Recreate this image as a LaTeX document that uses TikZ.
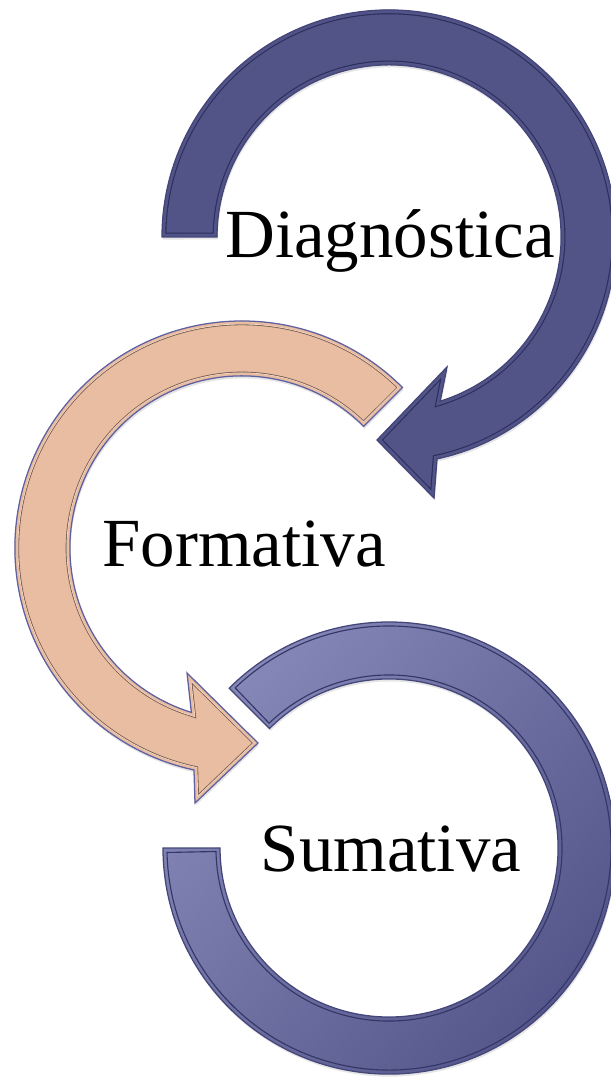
\documentclass[tikz,border=0pt]{standalone}
\usepackage{fontspec}
\setmainfont{Liberation Serif}
\definecolor{navy}{HTML}{525487}
\definecolor{navyedge}{HTML}{44467A}
\definecolor{navyband}{HTML}{2C2E5E}
\definecolor{peach}{HTML}{E8BDA1}
\definecolor{peachedge}{HTML}{5E60A2}
\definecolor{peachband}{HTML}{76584A}
\definecolor{lavlight}{HTML}{8789B9}
\definecolor{lavdark}{HTML}{53558A}
\tikzset{
  lbl/.style={font=\fontsize{49}{58}\selectfont, inner sep=0pt, text=black},
  shad/.style={fill=black, opacity=0.10, transform canvas={shift={(0.6pt,-1.8pt)}}},
}
\begin{document}
\begin{tikzpicture}[x=0.025cm,y=0.025cm]
\useasboundingbox (0,0) rectangle (611,1078);
% ---- paths ----
\path[save path=\pA] (162,841) arc[start angle=180,end angle=-77.8,radius=5.675cm]
   -- (434,580) -- (377,638) -- (447,711) -- (440.2,676.8)
   arc[start angle=-72.7,end angle=180,radius=4.3cm] -- cycle;
\path[save path=\pB] (402.5,690.5) arc[start angle=45,end angle=257.8,radius=5.675cm]
   -- (195,275) -- (258,335) -- (187,405) -- (191.4,365.6)
   arc[start angle=252.9,end angle=45,radius=4.3cm] -- cycle;
\path[save path=\pC] (229.2,389.8) arc[start angle=135,end angle=-180,radius=5.65cm]
   -- (220,230) arc[start angle=-180,end angle=135,radius=4.225cm] -- cycle;
% ---- shadows ----
\path[use path=\pA, shad];
\path[use path=\pB, shad];
\path[use path=\pC, shad];
% ---- arrow 1 (Diagnostica) ----
\path[use path=\pA, fill=navy];
\begin{scope}
  \clip[use path=\pA];
  \draw[use path=\pA, navyband, line width=6.2pt];
  \draw[use path=\pA, navy, line width=4.6pt];
\end{scope}
\draw[use path=\pA, navyedge, line width=0.9pt];
% ---- arrow 2 (Formativa) ----
\path[use path=\pB, fill=peach];
\begin{scope}
  \clip[use path=\pB];
  \draw[use path=\pB, peachband, line width=6.0pt];
  \draw[use path=\pB, white!70!peach, line width=4.8pt];
  \draw[use path=\pB, peach, line width=4.2pt];
\end{scope}
\draw[use path=\pB, peachedge, line width=0.9pt];
% ---- arrow 3 (Sumativa) ----
\begin{scope}
  \clip[use path=\pC];
  \shade[top color=lavlight, bottom color=lavdark, shading angle=50] (150,-10) rectangle (630,470);
\end{scope}
\draw[navyband!80!lavdark, line width=0.8pt] (235.2,390.1) arc[start angle=133.85,end angle=-178.85,radius=5.55cm]
   -- (216.0,226.5) arc[start angle=-178.85,end angle=133.85,radius=4.325cm] -- cycle;
\draw[use path=\pC, navyedge, line width=0.9pt];
% ---- labels ----
\node[lbl, anchor=base] (diag) at (390,820) {Diagnóstica};
\node[lbl, anchor=base] (form) at (244,511) {Formativa};
\node[lbl, anchor=base] (suma) at (391,206) {Sumativa};
\end{tikzpicture}
\end{document}
